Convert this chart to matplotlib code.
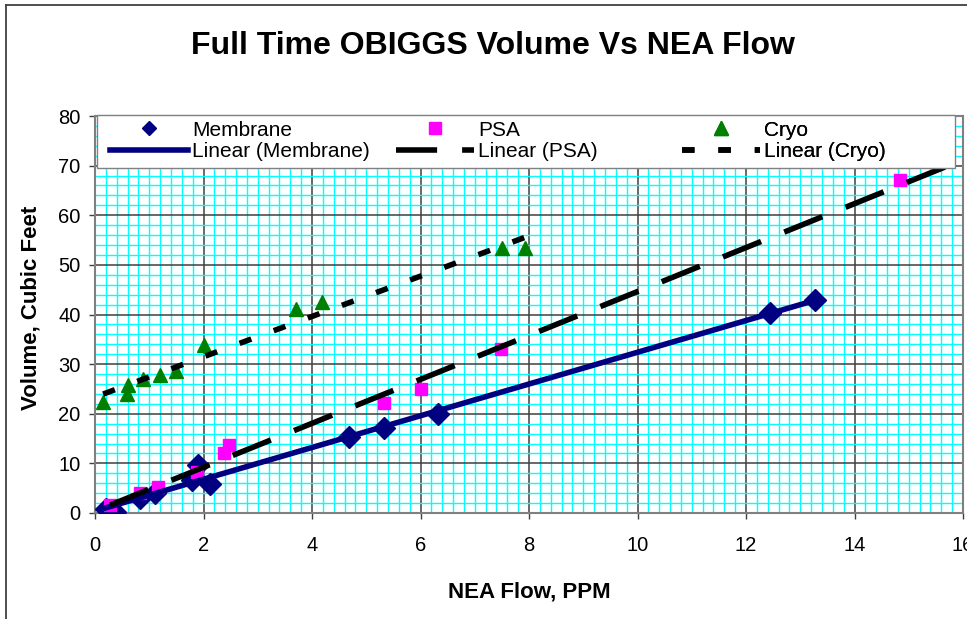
import matplotlib
matplotlib.use('Agg')
import matplotlib.pyplot as plt
from matplotlib.lines import Line2D
from matplotlib.patches import Rectangle
from matplotlib.ticker import MultipleLocator
import numpy as np

plt.rcParams['font.family'] = ['Liberation Sans', 'DejaVu Sans']

# NEA flow (PPM) and OBIGGS volume (cubic feet) per system type
membrane_flow = [0.2, 0.37, 0.83, 1.1, 1.79, 1.9, 2.12, 4.69, 5.33, 6.33, 12.45, 13.27]
membrane_vol = [0.9, 0.3, 3.0, 4.0, 6.6, 9.7, 5.8, 15.3, 17.1, 20.0, 40.3, 43.0]

psa_flow = [0.28, 0.83, 1.16, 1.88, 2.38, 2.47, 5.33, 6.0, 7.49, 14.83]
psa_vol = [1.6, 4.0, 5.3, 8.3, 12.1, 13.7, 22.2, 25.0, 33.1, 67.1]

cryo_flow = [0.15, 0.59, 0.61, 0.89, 1.2, 1.49, 2.01, 3.71, 4.19, 7.51, 7.93]
cryo_vol = [22.4, 24.0, 25.8, 27.0, 27.8, 28.6, 33.9, 41.1, 42.5, 53.4, 53.4]

NAVY = '#000080'
PINK = '#FF00FF'
GREEN = '#008000'


def trend(x, y, forward=0.0):
	# least squares straight line over the data range (plus forecast)
	k, b = np.polyfit(x, y, 1)
	xs = np.array([min(x), max(x) + forward])
	return xs, k * xs + b


fig = plt.figure(figsize=(9.67, 6.19), dpi=100)
ax = fig.add_axes([95 / 967, 106 / 619, 868 / 967, 397 / 619])

# outer chart border (left and top edges)
fig.add_artist(Line2D([6 / 967, 6 / 967], [0, 1 - 5 / 619], transform=fig.transFigure,
	color='#404040', lw=1.3))
fig.add_artist(Line2D([6 / 967, 1], [1 - 5 / 619, 1 - 5 / 619], transform=fig.transFigure,
	color='#404040', lw=1.3))

ax.plot(membrane_flow, membrane_vol, ls='none', marker='D', ms=11, color=NAVY, zorder=3)
ax.plot(psa_flow, psa_vol, ls='none', marker='s', ms=8.6, color=PINK, mec=PINK, zorder=3)
ax.plot(cryo_flow, cryo_vol, ls='none', marker='^', ms=10, color=GREEN, zorder=3)

psa_dash = (0, (7.4, 4.5))
cryo_dash = (0, (2.25, 4.3))

xs, ys = trend(membrane_flow, membrane_vol)
ax.plot(xs, ys, color=NAVY, lw=4, zorder=4)
xs, ys = trend(psa_flow, psa_vol, forward=1.0)
ax.plot(xs, ys, color='black', lw=4, ls=psa_dash, zorder=4)
xs, ys = trend(cryo_flow, cryo_vol)
ax.plot(xs, ys, color='black', lw=4, ls=cryo_dash, zorder=4)

ax.set_xlim(0, 16)
ax.set_ylim(0, 80)
ax.xaxis.set_major_locator(MultipleLocator(2))
ax.xaxis.set_minor_locator(MultipleLocator(0.2))
ax.yaxis.set_major_locator(MultipleLocator(10))
ax.yaxis.set_minor_locator(MultipleLocator(2))
ax.set_axisbelow(True)
ax.grid(which='minor', color='#00FFFF', lw=1.0)
ax.grid(which='major', color='#404040', lw=1.1)
ax.tick_params(which='minor', length=0)
ax.tick_params(which='major', direction='out', length=4.3, width=1, color='#404040', labelsize=14.5)
ax.tick_params(axis='x', pad=12)
ax.tick_params(axis='y', pad=6)
for sp in ax.spines.values():
	sp.set_color('#808080')
	sp.set_linewidth(1.5)

ax.set_xlabel('NEA Flow, PPM', fontsize=16, fontweight='bold')
ax.set_ylabel('Volume, Cubic Feet', fontsize=16, fontweight='bold')
ax.xaxis.set_label_coords(0.5, -0.172)
ax.yaxis.set_label_coords(-0.062, 0.516)

fig.text(0.51, 0.925, 'Full Time OBIGGS Volume Vs NEA Flow', fontsize=23,
	fontweight='bold', ha='center', va='center')

# legend box with three evenly spaced columns
ax.add_patch(Rectangle((0.0023, 0.869), 0.9885, 0.1335, transform=ax.transAxes,
	facecolor='white', edgecolor='#808080', lw=1, zorder=4.5, clip_on=False))

entries = [
	(0.0173, Line2D([], [], ls='none', marker='D', ms=7, color=NAVY), 'Membrane',
		Line2D([], [], color=NAVY, lw=4), 'Linear (Membrane)'),
	(0.3468, Line2D([], [], ls='none', marker='s', ms=8.6, color=PINK), 'PSA',
		Line2D([], [], color='black', lw=4, ls=psa_dash), 'Linear (PSA)'),
	(0.676, Line2D([], [], ls='none', marker='^', ms=10, color=GREEN), 'Cryo',
		Line2D([], [], color='black', lw=4, ls=cryo_dash), 'Linear (Cryo)'),
]
for x0, h1, l1, h2, l2 in entries:
	leg = ax.legend([h1, h2], [l1, l2], loc='upper left', bbox_to_anchor=(x0, 0.988),
		frameon=False, borderpad=0, borderaxespad=0, fontsize=15, handlelength=3.75,
		handletextpad=0.2, labelspacing=0.12)
	leg.set_zorder(5)
	ax.add_artist(leg)

fig.savefig('out.png', dpi=100)
